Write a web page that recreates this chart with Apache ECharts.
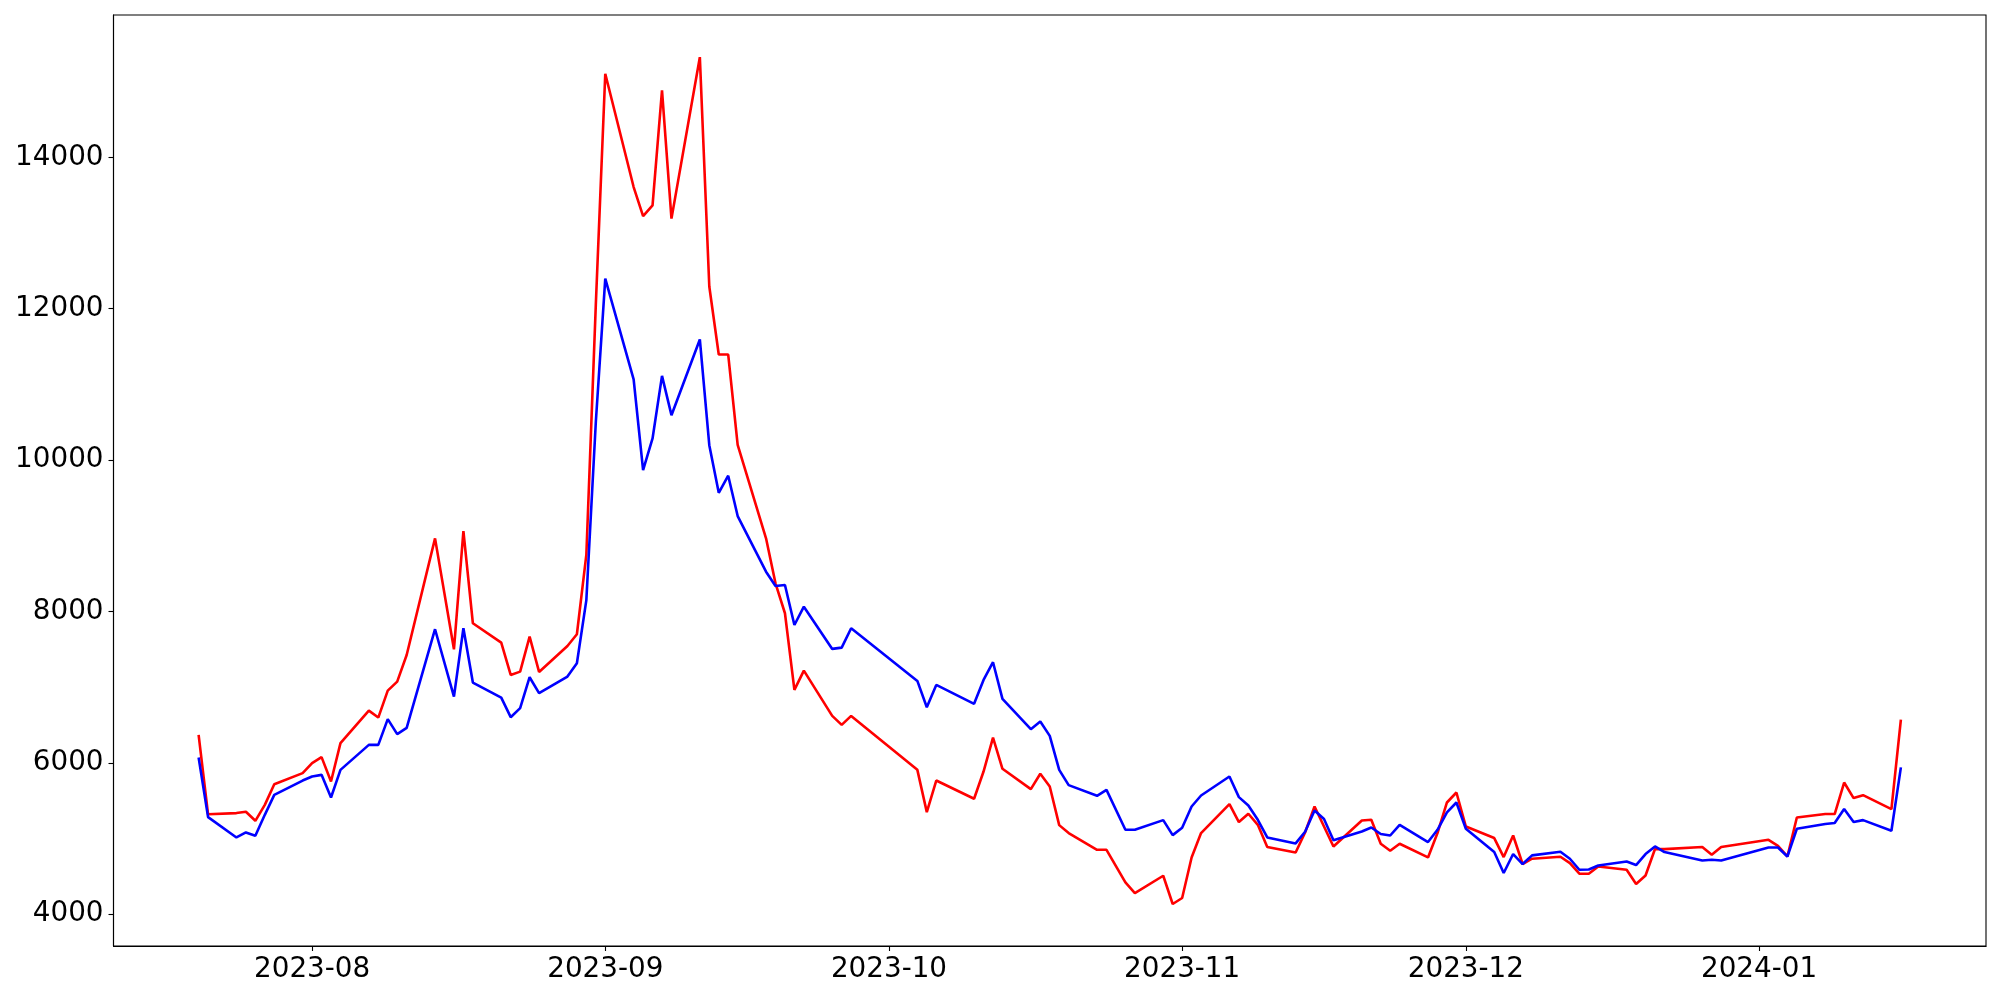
<!DOCTYPE html>
<html>
<head>
<meta charset="utf-8">
<script src="https://cdn.jsdelivr.net/npm/echarts@6/dist/echarts.min.js"></script>
<style>
  html, body { margin: 0; padding: 0; background: #fff; }
  #chart { width: 2000px; height: 1000px; }
</style>
</head>
<body>
<div id="chart"></div>
<script>
const dates = [
  '2023-07-20','2023-07-21','2023-07-24','2023-07-25','2023-07-26','2023-07-27','2023-07-28','2023-07-31',
  '2023-08-01','2023-08-02','2023-08-03','2023-08-04','2023-08-07','2023-08-08','2023-08-09','2023-08-10','2023-08-11',
  '2023-08-14','2023-08-16','2023-08-17','2023-08-18','2023-08-21','2023-08-22','2023-08-23','2023-08-24','2023-08-25',
  '2023-08-28','2023-08-29','2023-08-30','2023-08-31',
  '2023-09-01','2023-09-04','2023-09-05','2023-09-06','2023-09-07','2023-09-08','2023-09-11','2023-09-12','2023-09-13',
  '2023-09-14','2023-09-15','2023-09-18','2023-09-19','2023-09-20','2023-09-21','2023-09-22','2023-09-25','2023-09-26',
  '2023-09-27',
  '2023-10-04','2023-10-05','2023-10-06','2023-10-10','2023-10-11','2023-10-12','2023-10-13','2023-10-16','2023-10-17',
  '2023-10-18','2023-10-19','2023-10-20','2023-10-23','2023-10-24','2023-10-26','2023-10-27','2023-10-30','2023-10-31',
  '2023-11-01','2023-11-02','2023-11-03','2023-11-06','2023-11-07','2023-11-08','2023-11-09','2023-11-10','2023-11-13',
  '2023-11-14','2023-11-15','2023-11-16','2023-11-17','2023-11-20','2023-11-21','2023-11-22','2023-11-23','2023-11-24',
  '2023-11-27','2023-11-28','2023-11-29','2023-11-30',
  '2023-12-01','2023-12-04','2023-12-05','2023-12-06','2023-12-07','2023-12-08','2023-12-11','2023-12-12','2023-12-13',
  '2023-12-14','2023-12-15','2023-12-18','2023-12-19','2023-12-20','2023-12-21','2023-12-22','2023-12-26','2023-12-27',
  '2023-12-28',
  '2024-01-02','2024-01-03','2024-01-04','2024-01-05','2024-01-08','2024-01-09','2024-01-10','2024-01-11','2024-01-12',
  '2024-01-15','2024-01-16'
];

const redValues = [
  6370, 5320, 5336, 5353, 5234, 5445, 5718, 5864,
  5996, 6075, 5753, 6260, 6690, 6598, 6954, 7073, 7425,
  8965, 7500, 9062, 7844, 7588, 7161, 7205, 7667, 7201,
  7544, 7699, 8750, 12050,
  15104, 13607, 13222, 13366, 14885, 13190, 15323, 12293, 11394,
  11394, 10200, 8966, 8372, 7976, 6963, 7218, 6620, 6501,
  6620,
  5907, 5349, 5766, 5525, 5885, 6334, 5921, 5652, 5855,
  5687, 5177, 5072, 4851, 4851, 4420, 4280, 4508, 4135,
  4214, 4750, 5072, 5455, 5217, 5327, 5181, 4887, 4816,
  5080, 5423, 5159, 4895, 5238, 5247, 4931, 4838, 4931,
  4750, 5072, 5476, 5608,
  5159, 5006, 4755, 5040, 4663, 4733, 4759, 4676, 4535,
  4535, 4631, 4587, 4399, 4512, 4862, 4860, 4887, 4785,
  4887,
  4983, 4904, 4763, 5278, 5323, 5323, 5740, 5534, 5573,
  5389, 6570
];

const blueValues = [
  6070, 5283, 5014, 5080, 5036, 5313, 5577, 5766,
  5819, 5841, 5542, 5907, 6237, 6237, 6577, 6379, 6462,
  7765, 6875, 7778, 7060, 6862, 6603, 6722, 7131, 6920,
  7139, 7315, 8150, 10500,
  12398, 11065, 9867, 10285, 11112, 10593, 11593, 10197, 9568,
  9793, 9260, 8525, 8336, 8349, 7821, 8063, 7505, 7522,
  7778,
  7082, 6735, 7029, 6780, 7095, 7329, 6845, 6445, 6545,
  6356, 5907, 5705, 5564, 5643, 5115, 5115, 5243, 5045,
  5142, 5423, 5568, 5819, 5547, 5436, 5247, 5014, 4935,
  5090, 5370, 5258, 4976, 5093, 5146, 5059, 5040, 5181,
  4953, 5115, 5344, 5476,
  5129, 4821, 4544, 4795, 4663, 4777, 4825, 4733, 4587,
  4591, 4644, 4697, 4649, 4795, 4895, 4821, 4710, 4719,
  4710,
  4882, 4882, 4763, 5129, 5191, 5204, 5389, 5217, 5243,
  5102, 5940
];

const yTicks = [4000, 6000, 8000, 10000, 12000, 14000];
const xTickLabels = ['2023-08', '2023-09', '2023-10', '2023-11', '2023-12', '2024-01'];

const toDate = s => { const p = s.split('-').map(Number); return Date.UTC(p[0], p[1] - 1, p[2] || 1); };
const xTicks = xTickLabels.map(toDate);
const xMin = toDate('2023-07-11');
const xMax = toDate('2024-01-25');

const redData = dates.map((d, i) => [toDate(d), redValues[i]]);
const blueData = dates.map((d, i) => [toDate(d), blueValues[i]]);

const font = 'DejaVu Sans';
const chart = echarts.init(document.getElementById('chart'), null, { renderer: 'canvas' });
chart.setOption({
  animation: false,
  backgroundColor: '#ffffff',
  grid: {
    left: 113.5, right: 14, top: 15, bottom: 54,
    show: true, borderColor: '#000', borderWidth: 1.1, backgroundColor: 'transparent',
    containLabel: false
  },
  xAxis: {
    type: 'value',
    min: xMin, max: xMax,
    axisLine: { show: true, lineStyle: { color: '#000', width: 1.1 } },
    axisTick: { show: true, inside: false, length: 5, lineStyle: { color: '#000', width: 1.1 }, customValues: xTicks },
    axisLabel: {
      show: true, margin: 10, color: '#000', fontSize: 27.8, fontFamily: font,
      customValues: xTicks, hideOverlap: false,
      formatter: function (v) {
        const i = xTicks.indexOf(v);
        if (i >= 0) return xTickLabels[i];
        const d = new Date(v);
        return d.getUTCFullYear() + '-' + String(d.getUTCMonth() + 1).padStart(2, '0');
      }
    },
    splitLine: { show: false }
  },
  yAxis: {
    type: 'value',
    min: 3580, max: 15880,
    axisLine: { show: true, lineStyle: { color: '#000', width: 1.1 } },
    axisTick: { show: true, inside: false, length: 5, lineStyle: { color: '#000', width: 1.1 }, customValues: yTicks },
    axisLabel: {
      show: true, margin: 10, color: '#000', fontSize: 27.8, fontFamily: font,
      customValues: yTicks, hideOverlap: false,
      formatter: function (v) { return String(Math.round(v)); }
    },
    splitLine: { show: false }
  },
  series: [
    {
      type: 'line', name: 'red', data: redData, showSymbol: false, symbol: 'none',
      lineStyle: { color: '#ff0000', width: 2.6 }, itemStyle: { color: '#ff0000' }, z: 2
    },
    {
      type: 'line', name: 'blue', data: blueData, showSymbol: false, symbol: 'none',
      lineStyle: { color: '#0000ff', width: 2.6 }, itemStyle: { color: '#0000ff' }, z: 3
    }
  ]
});
</script>
</body>
</html>
